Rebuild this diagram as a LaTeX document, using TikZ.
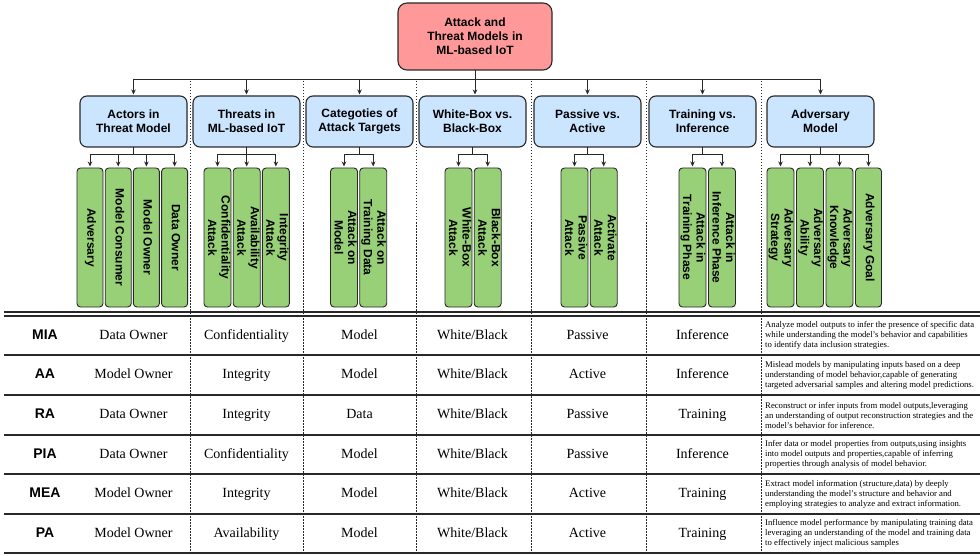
\documentclass[tikz,border=0pt]{standalone}
\usepackage{fontspec}
\setmainfont{Liberation Serif}
\setsansfont{Liberation Sans}
\usepackage{graphicx}
\usepackage{xcolor}
\usepackage{tikz}
\usetikzlibrary{arrows.meta, positioning}
\definecolor{rootcolor}{RGB}{255,153,153}
\definecolor{catcolor}{RGB}{204,229,255}
\definecolor{leafcolor}{RGB}{151,208,119}
\definecolor{linecolor}{RGB}{40,40,40}
\newcommand{\vlbl}[1]{\rotatebox[origin=c]{-90}{\begin{tabular}{@{}c@{}}#1\end{tabular}}}

\begin{document}
\begin{tikzpicture}[x=1pt, y=-1pt,
    >={Stealth[length=5pt,width=4.5pt]},
    hdr/.style={
        draw=linecolor, line width=1.1pt, rounded corners=9pt,
        fill=rootcolor, outer sep=0pt,
        minimum width=154pt, minimum height=67pt,
        align=center,
        font=\sffamily\bfseries\fontsize{12}{14}\selectfont
    },
    cat/.style={
        draw=linecolor, line width=1.1pt, rounded corners=7pt,
        fill=catcolor, outer sep=0pt,
        minimum width=107pt, minimum height=51pt,
        align=center,
        font=\sffamily\bfseries\fontsize{12}{14.3}\selectfont
    },
    leaf/.style={
        draw=linecolor, line width=0.9pt, rounded corners=3.5pt,
        fill=leafcolor, outer sep=0pt, inner sep=0pt,
        minimum width=26pt, minimum height=139pt,
        font=\sffamily\bfseries\fontsize{12}{13.5}\selectfont
    },
    link/.style={->, line width=1pt, draw=linecolor, shorten >=1.5pt},
    sep/.style={draw=linecolor, line width=0.7pt, dash pattern=on 1.5pt off 1.5pt},
    rule/.style={draw=linecolor, line width=1.3pt},
    tag/.style={
        font=\sffamily\bfseries\fontsize{14}{16}\selectfont,
        text height=10pt, text depth=2.5pt, inner sep=0pt
    },
    cell/.style={
        font=\fontsize{14}{16}\selectfont,
        text height=10pt, text depth=3pt, inner sep=0pt
    },
    note/.style={
        font=\fontsize{8.7}{10}\selectfont,
        align=left, anchor=west, inner sep=0pt
    }
]
\useasboundingbox (0,0) rectangle (980,556);

% =========================
% ROOT
% =========================
\node[hdr] (ROOT) at (475,36.5) {Attack and\\Threat Models in\\ML-based IoT};

% =========================
% CATEGORIES
% =========================
\node[cat] (ACT) at (133.5,121.5) {Actors in\\Threat Model};
\node[cat, right=6pt of ACT] (THR) {Threats in\\ML-based IoT};
\node[cat, right=6pt of THR] (TGT) {Categoties of\\Attack Targets};
\node[cat, right=6pt of TGT] (BOX) {White-Box vs.\\Black-Box};
\node[cat, right=8pt of BOX] (PAS) {Passive vs.\\Active};
\node[cat, right=8pt of PAS] (PHS) {Training vs.\\Inference};
\node[cat, right=11pt of PHS] (ADV) {Adversary\\Model};

\draw[link] (ROOT.south) -- ++(0,10) -| (ACT.north);
\draw[link] (ROOT.south) -- ++(0,10) -| (THR.north);
\draw[link] (ROOT.south) -- ++(0,10) -| (TGT.north);
\draw[link] (ROOT.south) -- (ROOT.south |- BOX.north);
\draw[link] (ROOT.south) -- ++(0,10) -| (PAS.north);
\draw[link] (ROOT.south) -- ++(0,10) -| (PHS.north);
\draw[link] (ROOT.south) -- ++(0,10) -| (ADV.north);

% =========================
% LEAVES
% =========================
\node[leaf, anchor=north west] (ACT1) at (77,168) {\vlbl{Adversary}};
\node[leaf, right=2.2pt of ACT1] (ACT2) {\vlbl{Model Consumer}};
\node[leaf, right=2.2pt of ACT2] (ACT3) {\vlbl{Model Owner}};
\node[leaf, right=2.2pt of ACT3] (ACT4) {\vlbl{Data Owner}};

\node[leaf, anchor=north west] (THR1) at (204,168) {\vlbl{Confidentiality\\Attack}};
\node[leaf, right=2.2pt of THR1] (THR2) {\vlbl{Availability\\Attack}};
\node[leaf, right=2.2pt of THR2] (THR3) {\vlbl{Integrity\\Attack}};

\node[leaf, anchor=north west] (TGT1) at (330.5,168) {\vlbl{Attack on\\Model}};
\node[leaf, right=2.2pt of TGT1] (TGT2) {\vlbl{Attack on\\Training Data}};

\node[leaf, anchor=north west] (BOX1) at (445,168) {\vlbl{White-Box\\Attack}};
\node[leaf, right=2.2pt of BOX1] (BOX2) {\vlbl{Black-Box\\Attack}};

\node[leaf, anchor=north west] (PAS1) at (561,168) {\vlbl{Passive\\Attack}};
\node[leaf, right=2.2pt of PAS1] (PAS2) {\vlbl{Activate\\Attack}};

\node[leaf, anchor=north west] (PHS1) at (679,168) {\vlbl{Attack in\\Training Phase}};
\node[leaf, right=2.5pt of PHS1] (PHS2) {\vlbl{Attack in\\Inference Phase}};

\node[leaf, anchor=north west] (ADV1) at (767,168) {\vlbl{Adversary\\Strategy}};
\node[leaf, right=2.5pt of ADV1] (ADV2) {\vlbl{Adversary\\Ability}};
\node[leaf, right=2.5pt of ADV2] (ADV3) {\vlbl{Adversary\\Knowledge}};
\node[leaf, right=2.5pt of ADV3] (ADV4) {\vlbl{Adversary Goal}};

\draw[link] (ACT.south) -- ++(0,8) -| (ACT1.north);
\draw[link] (ACT.south) -- ++(0,8) -| (ACT2.north);
\draw[link] (ACT.south) -- ++(0,8) -| (ACT3.north);
\draw[link] (ACT.south) -- ++(0,8) -| (ACT4.north);

\draw[link] (THR.south) -- ++(0,8) -| (THR1.north);
\draw[link] (THR.south) -- ++(0,8) -| (THR2.north);
\draw[link] (THR.south) -- ++(0,8) -| (THR3.north);

\draw[link] (TGT.south) -- ++(0,8) -| (TGT1.north);
\draw[link] (TGT.south) -- ++(0,8) -| (TGT2.north);

\draw[link] (BOX.south) -- ++(0,8) -| (BOX1.north);
\draw[link] (BOX.south) -- ++(0,8) -| (BOX2.north);

\draw[link] (PAS.south) -- ++(0,8) -| (PAS1.north);
\draw[link] (PAS.south) -- ++(0,8) -| (PAS2.north);

\draw[link] (PHS.south) -- ++(0,8) -| (PHS1.north);
\draw[link] (PHS.south) -- ++(0,8) -| (PHS2.north);

\draw[link] (ADV.south) -- ++(0,8) -| (ADV1.north);
\draw[link] (ADV.south) -- ++(0,8) -| (ADV2.north);
\draw[link] (ADV.south) -- ++(0,8) -| (ADV3.north);
\draw[link] (ADV.south) -- ++(0,8) -| (ADV4.north);

% =========================
% COLUMN SEPARATORS
% =========================
\draw[sep] (190,81) -- (190,553);
\draw[sep] (303,81) -- (303,553);
\draw[sep] (416,81) -- (416,553);
\draw[sep] (531,81) -- (531,553);
\draw[sep] (646,81) -- (646,553);
\draw[sep] (761,81) -- (761,553);

% =========================
% TABLE RULES
% =========================
\draw[rule] (4,312) -- (980,312);
\draw[rule] (4,316) -- (980,316);
\draw[rule] (4,355) -- (980,355);
\draw[rule] (4,395) -- (980,395);
\draw[rule] (4,435) -- (980,435);
\draw[rule] (4,474) -- (980,474);
\draw[rule] (4,514) -- (980,514);
\draw[rule] (4,553) -- (980,553);

% =========================
% TABLE ROWS
% =========================
\node[tag] (MIA) at (45,335.5) {MIA};
\node[cell] (MIA1) at (ACT |- MIA) {Data Owner};
\node[cell] (MIA2) at (THR |- MIA) {Confidentiality};
\node[cell] (MIA3) at (TGT |- MIA) {Model};
\node[cell] (MIA4) at (BOX |- MIA) {White/Black};
\node[cell] (MIA5) at (PAS |- MIA) {Passive};
\node[cell] (MIA6) at (PHS |- MIA) {Inference};
\node[note] (MIA7) at (765,335.5)
 {Analyze model outputs to infer the presence of specific data\\
  while understanding the model's behavior and capabilities\\
  to identify data inclusion strategies.};

\node[tag] (AA) at (45,375) {AA};
\node[cell] (AA1) at (ACT |- AA) {Model Owner};
\node[cell] (AA2) at (THR |- AA) {Integrity};
\node[cell] (AA3) at (TGT |- AA) {Model};
\node[cell] (AA4) at (BOX |- AA) {White/Black};
\node[cell] (AA5) at (PAS |- AA) {Active};
\node[cell] (AA6) at (PHS |- AA) {Inference};
\node[note] (AA7) at (765,375)
 {Mislead models by manipulating inputs based on a deep\\
  understanding of model behavior,capable of generating\\
  targeted adversarial samples and altering model predictions.};

\node[tag] (RA) at (45,415) {RA};
\node[cell] (RA1) at (ACT |- RA) {Data Owner};
\node[cell] (RA2) at (THR |- RA) {Integrity};
\node[cell] (RA3) at (TGT |- RA) {Data};
\node[cell] (RA4) at (BOX |- RA) {White/Black};
\node[cell] (RA5) at (PAS |- RA) {Passive};
\node[cell] (RA6) at (PHS |- RA) {Training};
\node[note] (RA7) at (765,415)
 {Reconstruct or infer inputs from model outputs,leveraging\\
  an understanding of output reconstruction strategies and the\\
  model's behavior for inference.};

\node[tag] (PIA) at (45,454.5) {PIA};
\node[cell] (PIA1) at (ACT |- PIA) {Data Owner};
\node[cell] (PIA2) at (THR |- PIA) {Confidentiality};
\node[cell] (PIA3) at (TGT |- PIA) {Model};
\node[cell] (PIA4) at (BOX |- PIA) {White/Black};
\node[cell] (PIA5) at (PAS |- PIA) {Passive};
\node[cell] (PIA6) at (PHS |- PIA) {Inference};
\node[note] (PIA7) at (765,454.5)
 {Infer data or model properties from outputs,using insights\\
  into model outputs and properties,capable of inferring\\
  properties through analysis of model behavior.};

\node[tag] (MEA) at (45,494) {MEA};
\node[cell] (MEA1) at (ACT |- MEA) {Model Owner};
\node[cell] (MEA2) at (THR |- MEA) {Integrity};
\node[cell] (MEA3) at (TGT |- MEA) {Model};
\node[cell] (MEA4) at (BOX |- MEA) {White/Black};
\node[cell] (MEA5) at (PAS |- MEA) {Active};
\node[cell] (MEA6) at (PHS |- MEA) {Training};
\node[note] (MEA7) at (765,494)
 {Extract model information (structure,data) by deeply\\
  understanding the model's structure and behavior and\\
  employing strategies to analyze and extract information.};

\node[tag] (PA) at (45,533.5) {PA};
\node[cell] (PA1) at (ACT |- PA) {Model Owner};
\node[cell] (PA2) at (THR |- PA) {Availability};
\node[cell] (PA3) at (TGT |- PA) {Model};
\node[cell] (PA4) at (BOX |- PA) {White/Black};
\node[cell] (PA5) at (PAS |- PA) {Active};
\node[cell] (PA6) at (PHS |- PA) {Training};
\node[note] (PA7) at (765,533.5)
 {Influence model performance by manipulating training data\\
  leveraging an understanding of the model and training data\\
  to effectively inject malicious samples};

\end{tikzpicture}
\end{document}
